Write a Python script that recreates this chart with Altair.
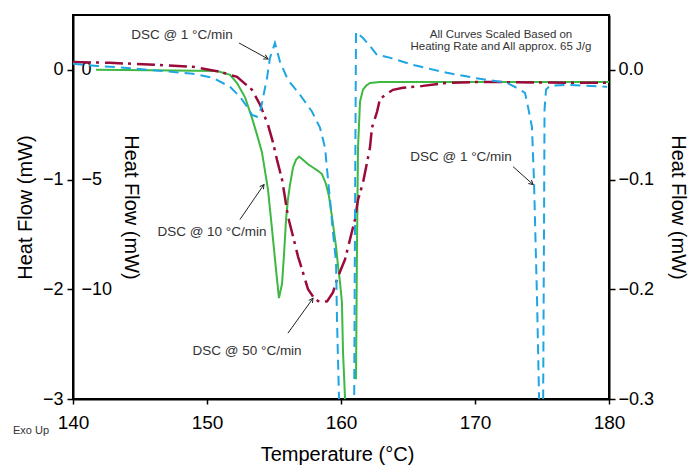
import math
import altair as alt
import pandas as pd

# ---- DSC @ 10 °C/min (left axis, mW) ----
green_T = [141.72, 145.75, 150.75, 151.72, 152.24, 152.84, 153.36, 153.73, 154.10,
           154.55, 154.85, 155.15, 155.37, 155.60, 155.75, 155.90, 156.04, 156.19,
           156.42, 156.64, 156.87, 157.16, 157.54, 157.91, 158.28, 158.58, 158.88,
           159.10, 159.33, 159.63, 159.78, 159.93, 160.07, 160.15, 160.30, 160.41,
           161.12, 161.19, 161.27, 161.42, 161.64, 161.87, 162.16, 162.91, 180.0]
green_hf = [0.0, -0.003, -0.01, -0.045, -0.12, -0.25, -0.44, -0.59, -0.75,
            -1.09, -1.45, -1.82, -2.08, -1.95, -1.68, -1.36, -1.18, -1.05,
            -0.89, -0.82, -0.79, -0.82, -0.86, -0.89, -0.92, -0.95, -1.04,
            -1.15, -1.34, -1.61, -1.79, -1.94, -2.12, -2.57, -2.99, -3.4,
            -2.82, -1.64, -0.71, -0.29, -0.18, -0.145, -0.12, -0.11, -0.11]
green_seg = [1] * 36 + [2] * 9

# ---- DSC @ 50 °C/min (inner left axis, mW) ----
red_T = [140.0, 142.76, 146.27, 148.96, 150.97, 152.24, 153.36, 153.96, 154.55,
         154.93, 155.22, 155.60, 155.82, 156.04, 156.42, 156.79, 157.16, 157.54,
         157.99, 158.43, 158.96, 159.40, 159.70, 160.0, 160.30, 160.67, 161.04,
         161.27, 161.64, 161.94, 162.16, 162.31, 162.69, 162.91, 163.43, 163.88,
         164.63, 166.12, 167.91, 170.37, 177.84, 179.85]
red_hf = [0.36, 0.32, 0.23, 0.14, -0.09, -0.32, -0.91, -1.59, -2.5,
          -3.32, -4.09, -5.0, -5.82, -6.68, -7.59, -8.5, -9.23, -10.0,
          -10.4, -10.59, -10.55, -10.14, -9.55, -9.09, -8.64, -7.73, -6.82,
          -5.91, -5.14, -4.23, -3.55, -2.64, -1.91, -1.32, -1.09, -0.91,
          -0.82, -0.73, -0.59, -0.55, -0.59, -0.59]

# ---- DSC @ 1 °C/min (right axis, mW) ----
blue_T = [140.0, 141.79, 144.03, 146.49, 148.96, 150.45, 151.72, 152.46, 152.99,
          153.36, 153.73, 153.96, 154.18, 154.48, 154.70, 155.07, 155.45, 156.04,
          156.94, 157.84, 158.43, 158.81, 158.96, 159.18, 159.40, 159.63, 159.70,
          159.85, 160.0, 160.97, 161.04, 161.12, 161.64, 162.16, 162.69, 163.43,
          164.18, 165.37, 167.91, 170.37, 172.39, 173.36, 173.73, 173.96, 174.25,
          174.40, 174.63, 174.78, 174.93, 175.07, 175.15, 175.19, 175.30, 175.60,
          176.87, 179.85]
blue_hf = [0.0055, 0.0036, 0.0018, -0.0009, -0.0036, -0.0073, -0.0155, -0.0245, -0.0336,
           -0.041, -0.0427, -0.039, -0.0255, -0.0073, 0.0109, 0.0245, 0.0073, -0.0091,
           -0.0227, -0.0382, -0.0527, -0.0709, -0.0909, -0.118, -0.148, -0.175, -0.227,
           -0.299, -0.34, -0.34, -0.15, 0.0345, 0.029, 0.0218, 0.0136, 0.0118,
           0.0091, 0.0045, -0.0027, -0.0082, -0.0118, -0.018, -0.021, -0.034, -0.052,
           -0.1, -0.209, -0.299, -0.34, -0.34, -0.145, -0.036, -0.018, -0.0145,
           -0.0136, -0.0155]

# ---- annotations (temperature, left-axis mW) ----
label_text = ["DSC @ 1 °C/min", "DSC @ 10 °C/min", "DSC @ 50 °C/min", "DSC @ 1 °C/min"]
label_T = [148.13, 150.37, 152.99, 168.96]
label_hf = [0.318, -1.482, -2.564, -0.791]

note_lines = ["All Curves Scaled Based on", "Heating Rate and All approx. 65 J/g"]
note_T = [171.94, 171.94]
note_hf = [0.318, 0.209]

arrow_T0 = [152.39, 152.46, 156.04, 172.84]
arrow_hf0 = [0.245, -1.364, -2.40, -0.882]
arrow_T1 = [154.55, 154.25, 157.91, 174.33]
arrow_hf1 = [0.10, -1.045, -2.082, -1.045]

x_ticks = [140, 150, 160, 170, 180]
left_ticks = [0, -1, -2, -3]
inner_ticks = [0, -5, -10]
right_ticks = [0.0, -0.1, -0.2, -0.3]

W, H = 536, 384
X_DOM = [140, 180]
LEFT_DOM = [-3, 0.5]
INNER_DOM = [-15, 2.5]
RIGHT_DOM = [-0.3, 0.05]
FONT = "Liberation Sans"
TXT = "#333333"

green_df = pd.DataFrame({"T": green_T, "hf": green_hf, "seg": green_seg})
red_df = pd.DataFrame({"T": red_T, "hf": red_hf})
blue_df = pd.DataFrame({"T": blue_T, "hf": blue_hf})
label_df = pd.DataFrame({"T": label_T, "hf": label_hf, "txt": label_text})
note_df = pd.DataFrame({"T": note_T, "hf": note_hf, "txt": note_lines})

# arrowhead rotation from the on-screen direction of each leader line
px_per_T = W / (X_DOM[1] - X_DOM[0])
px_per_hf = H / (LEFT_DOM[1] - LEFT_DOM[0])
angles = []
for t0, h0, t1, h1 in zip(arrow_T0, arrow_hf0, arrow_T1, arrow_hf1):
    dx = (t1 - t0) * px_per_T
    dy = -(h1 - h0) * px_per_hf
    angles.append(math.degrees(math.atan2(dx, -dy)) % 360)
arrow_df = pd.DataFrame({"T0": arrow_T0, "hf0": arrow_hf0, "T1": arrow_T1,
                         "hf1": arrow_hf1, "ang": angles})

x_axis = alt.Axis(values=x_ticks, format="d", title="Temperature (°C)", tickSize=5,
                  labelFontSize=19, labelPadding=9, labelFlush=False, titleFontSize=20,
                  titleFontWeight="normal", titleX=264, titleY=55,
                  titleBaseline="middle", titleAlign="center", domainWidth=2,
                  tickWidth=1.5, grid=False, labelFont=FONT, titleFont=FONT)


def xenc(field="T"):
    return alt.X(f"{field}:Q", scale=alt.Scale(domain=X_DOM, nice=False, zero=False),
                 axis=x_axis)


def yleft(field="hf", axis=None):
    return alt.Y(f"{field}:Q", scale=alt.Scale(domain=LEFT_DOM, nice=False, zero=False),
                 axis=axis)


left_axis = alt.Axis(orient="left", values=left_ticks, format="d", title="Heat Flow (mW)",
                     tickSize=6, labelFontSize=18, labelPadding=4, labelFlush=False,
                     titleFontSize=20, titleFontWeight="normal", titleX=-48, titleY=192,
                     titleAngle=270, titleBaseline="middle", titleAlign="center",
                     domainWidth=2, tickWidth=1.5, grid=False, labelFont=FONT,
                     titleFont=FONT)

inner_axis = alt.Axis(orient="right", offset=-W, values=inner_ticks, format="d",
                      title="Heat Flow (mW)", ticks=False, domain=False, labelPadding=8,
                      labelFlush=False, labelFontSize=18, titleFontSize=20,
                      titleFontWeight="normal", titleX=57, titleY=192, titleAngle=90,
                      titleBaseline="middle", titleAlign="center", grid=False,
                      labelFont=FONT, titleFont=FONT)

right_axis = alt.Axis(orient="right", values=right_ticks, format=".1f",
                      title="Heat Flow (mW)", tickSize=6, labelPadding=3, labelFlush=False,
                      labelFontSize=18, titleFontSize=20, titleFontWeight="normal",
                      titleX=68, titleY=192, titleAngle=90, titleBaseline="middle",
                      titleAlign="center", domainWidth=2, tickWidth=1.5, grid=False,
                      labelFont=FONT, titleFont=FONT)

green = alt.Chart(green_df).mark_line(color="#3db843", strokeWidth=2, clip=True).encode(
    x=xenc(), y=yleft(axis=left_axis), detail="seg:N")

red = alt.Chart(red_df).mark_line(color="#9a0a3a", strokeWidth=2.5, clip=True,
                                  strokeDash=[18, 5, 3, 6]).encode(
    x=xenc(),
    y=alt.Y("hf:Q", scale=alt.Scale(domain=INNER_DOM, nice=False, zero=False),
            axis=inner_axis))

blue = alt.Chart(blue_df).mark_line(color="#1ea5e3", strokeWidth=2, clip=True,
                                    strokeDash=[10, 6]).encode(
    x=xenc(),
    y=alt.Y("hf:Q", scale=alt.Scale(domain=RIGHT_DOM, nice=False, zero=False),
            axis=right_axis))

leaders = alt.Chart(arrow_df).mark_rule(color="#222222", strokeWidth=1).encode(
    x=xenc("T0"), y=yleft("hf0"), x2="T1:Q", y2="hf1:Q")

heads = alt.Chart(arrow_df).mark_point(
    shape="M-0.55,1L0,0L0.55,1", filled=False, size=70, color="#222222",
    strokeWidth=1, opacity=1).encode(
    x=xenc("T1"), y=yleft("hf1"), angle=alt.Angle("ang:Q", scale=None))

labels = alt.Chart(label_df).mark_text(fontSize=13.5, font=FONT, color=TXT).encode(
    x=xenc(), y=yleft(), text="txt:N")

notes = alt.Chart(note_df).mark_text(fontSize=11.5, font=FONT, color=TXT).encode(
    x=xenc(), y=yleft(), text="txt:N")

exo = alt.Chart(pd.DataFrame({"txt": ["Exo Up"]})).mark_text(
    fontSize=11, font=FONT, color=TXT, align="center", baseline="middle").encode(
    x=alt.value(-42), y=alt.value(416), text="txt:N")

chart = alt.layer(green, red, blue, leaders, heads, labels, notes, exo).resolve_scale(
    y="independent"
).properties(
    width=W, height=H,
    padding={"left": 73, "top": 15, "right": 80, "bottom": 67},
    autosize=alt.AutoSizeParams(type="none"),
).configure_view(stroke="black", strokeWidth=2).configure_axis(
    labelColor="black", titleColor="black", domainColor="black", tickColor="black")

chart.save("out.html", embed_options={"renderer": "svg", "actions": False})
